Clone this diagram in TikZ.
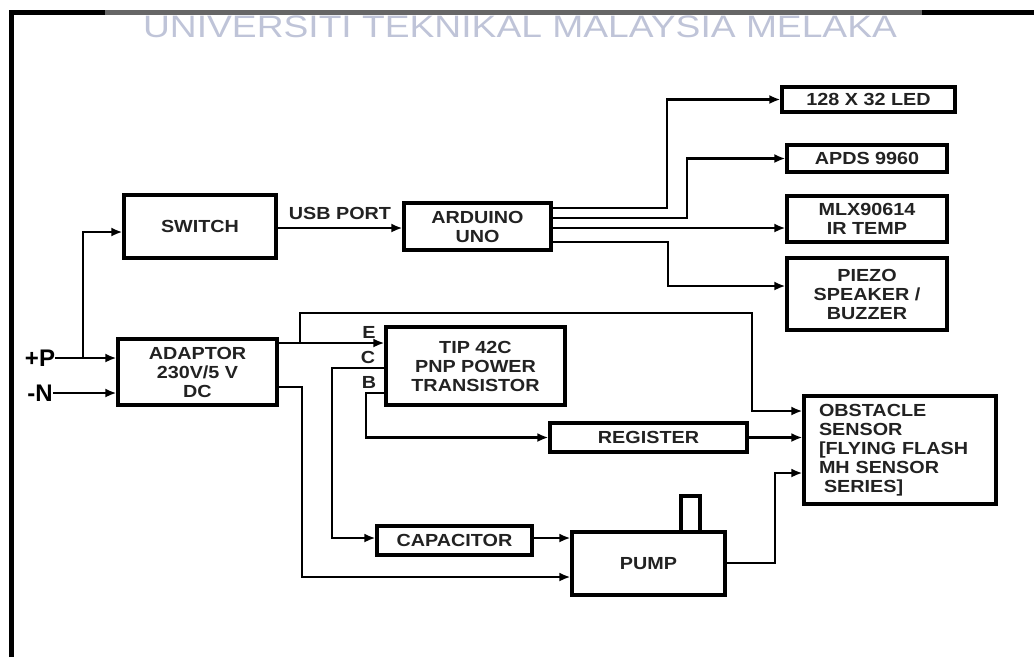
\documentclass[tikz,border=0pt]{standalone}
\usepackage{fontspec}
\setmainfont{Liberation Sans}
\newfontfamily\bx[FakeStretch=1.13]{Liberation Sans}
\newfontfamily\wm[FakeStretch=1.2]{Liberation Sans}
\usetikzlibrary{arrows.meta}
\definecolor{wmcol}{HTML}{BFC4D8}
\definecolor{txt}{HTML}{222222}
\begin{document}
\begin{tikzpicture}[x=1pt,y=-1pt,
  box/.style={draw, line width=3.2pt, inner sep=0pt, align=center,
    font=\bx\bfseries\fontsize{17.5}{19}\selectfont, text=txt},
  conn/.style={line width=2.8pt, -{Latex[length=11pt,width=9pt]}},
  lbl/.style={inner sep=0pt, font=\bx\bfseries\fontsize{17.5}{19}\selectfont, text=txt},
  big/.style={inner sep=0pt, font=\bfseries\fontsize{24}{26}\selectfont, text=black}]
\useasboundingbox (0,0) rectangle (1034,657);
% frame
\draw[line width=5pt] (11,657) -- (11,12) -- (1034,12);
\draw[line width=5pt, black!60] (105,12) -- (922,12);
\node[inner sep=0pt, font=\wm\fontsize{31}{32}\selectfont, text=wmcol] (wmark) at (520,27) {UNIVERSITI TEKNIKAL MALAYSIA MELAKA};
% boxes
\node[box, minimum width=152, minimum height=63] (switch) at (200,226.5) {SWITCH};
\node[box, minimum width=159, minimum height=66] (adaptor) at (197.5,372) {ADAPTOR\\230V/5 V\\DC};
\node[box, minimum width=147, minimum height=47] (arduino) at (477.5,226.5) {ARDUINO\\UNO};
\node[box, minimum width=173, minimum height=25] (led) at (868.5,99.5) {128 X 32 LED};
\node[box, minimum width=160, minimum height=27] (apds) at (867,158.5) {APDS 9960};
\node[box, minimum width=160, minimum height=46] (mlx) at (867,219) {MLX90614\\IR TEMP};
\node[box, minimum width=160, minimum height=72] (piezo) at (867,294) {PIEZO\\SPEAKER /\\BUZZER};
\node[box, minimum width=179, minimum height=78] (tip) at (475.5,366) {TIP 42C\\PNP POWER\\TRANSISTOR};
\node[box, minimum width=197, minimum height=29] (register) at (648.5,437.5) {REGISTER};
\node[box, minimum width=192, minimum height=108, inner xsep=15pt, text width=162pt, align=left] (obstacle) at (900,450) {OBSTACLE\\SENSOR\\{[}FLYING FLASH\\MH SENSOR\\\hspace*{5pt}SERIES]};
\node[box, minimum width=155, minimum height=29] (capacitor) at (454.5,540.5) {CAPACITOR};
\node[box, minimum width=153, minimum height=63] (pump) at (648.5,563.5) {PUMP};
\draw[line width=3.2pt] (681,533) -- (681,496) -- (700,496) -- (700,533);
% labels
\node[big] (P) at (40,358) {+P};
\node[big] (N) at (40,393) {-N};
\node[lbl] (E) at (369,332) {E};
\node[lbl] (C) at (368,357) {C};
\node[lbl] (B) at (369,382) {B};
% connectors
\draw[conn] (P.east) -- (adaptor.west |- P.east);
\coordinate (pj) at (83,358);
\draw[conn] (pj) |- (switch.west |- 0,232);
\draw[conn] (N.east) -- (adaptor.west |- N.east);
\draw[conn] (switch.east |- 0,228) -- (arduino.west |- 0,228) node[lbl, midway, above=7pt] (usb) {USB PORT};
\draw[conn] (arduino.east |- 0,208) -- (667,208) |- (led.west);
\draw[conn] (arduino.east |- 0,218) -- (687,218) |- (apds.west);
\draw[conn] (arduino.east |- 0,228) -- (mlx.west |- 0,228);
\draw[conn] (arduino.east |- 0,242) -- (668,242) |- (piezo.west |- 0,286);
\draw[conn] (adaptor.east |- 0,343) -- (tip.west |- 0,343);
\draw[conn] (300,343) -- (300,313) -- (752,313) |- (obstacle.west |- 0,411);
\draw[conn] (tip.west |- 0,368) -- (332,368) |- (capacitor.west |- 0,538);
\draw[conn] (tip.west |- 0,393) -- (366,393) |- (register.west);
\draw[conn] (register.east) -- (obstacle.west |- register.east);
\draw[conn] (adaptor.east |- 0,387) -- (302,387) |- (pump.west |- 0,577);
\draw[conn] (capacitor.east |- 0,538) -- (pump.west |- 0,538);
\draw[conn] (pump.east |- 0,563) -- (775,563) |- (obstacle.west |- 0,473);
\end{tikzpicture}
\end{document}
